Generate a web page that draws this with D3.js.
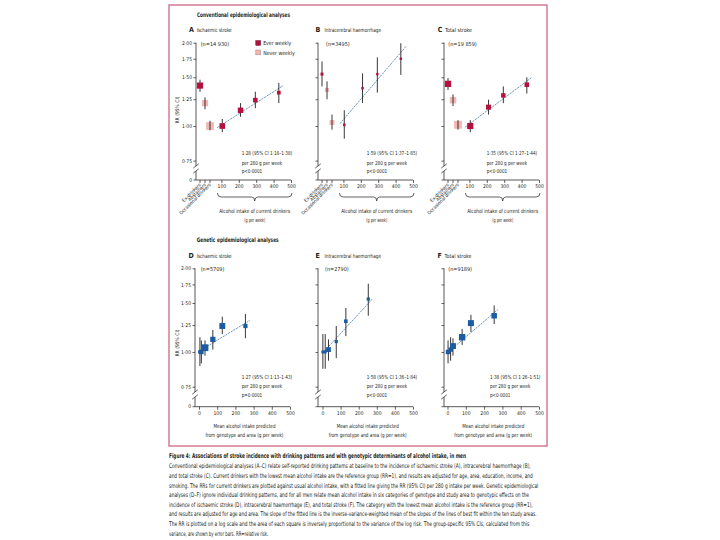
<!DOCTYPE html>
<html><head><meta charset="utf-8">
<script src="https://cdn.jsdelivr.net/npm/d3@7"></script>
<style>body{margin:0;background:#fff}</style>
</head><body><svg id="c" width="720" height="540"></svg>
<script>
// ---------- data ----------
const catLabels = ["Ex-drinkers", "Abstainers", "Occasional drinkers"];
const catGroups = ["ever", "never", "never"];
const yTicks = [0.75, 1.00, 1.25, 1.50, 1.75, 2.00];
const yTickLabels = ["0·75", "1·00", "1·25", "1·50", "1·75", "2·00"];
const xTicksConv = [100, 200, 300, 400, 500];
const xTicksGen = [0, 100, 200, 300, 400, 500];
const currIntake = [105, 210, 295, 430];

// A Ischaemic stroke (conventional)
const aCatRR = [1.40, 1.21, 1.00], aCatLo = [1.33, 1.15, 0.965], aCatHi = [1.47, 1.27, 1.045];
const aRR = [1.00, 1.14, 1.24, 1.32], aLo = [0.95, 1.08, 1.16, 1.21], aHi = [1.06, 1.21, 1.33, 1.43];
const aFitX = [75, 455], aFitRR = [0.986, 1.40];
// B Intracerebral haemorrhage (conventional)
const bCatRR = [1.54, 1.35, 1.03], bCatLo = [1.39, 1.25, 0.97], bCatHi = [1.71, 1.45, 1.10];
const bRR = [1.01, 1.37, 1.54, 1.75], bLo = [0.90, 1.21, 1.32, 1.53], bHi = [1.14, 1.55, 1.77, 1.99];
const bFitX = [80, 460], bFitRR = [1.02, 1.94];
// C Total stroke (conventional)
const cCatRR = [1.42, 1.24, 1.01], cCatLo = [1.35, 1.18, 0.97], cCatHi = [1.49, 1.30, 1.05];
const cRR = [1.00, 1.17, 1.29, 1.41], cLo = [0.95, 1.10, 1.21, 1.31], cHi = [1.05, 1.245, 1.39, 1.50];
const cFitX = [75, 460], cFitRR = [0.99, 1.50];

// D, E, F genetic analyses
const dX = [5, 13, 33, 76, 128, 255];
const dRR = [1.00, 1.00, 1.036, 1.11, 1.24, 1.24], dLo = [0.89, 0.91, 0.97, 1.02, 1.16, 1.12], dHi = [1.13, 1.10, 1.10, 1.20, 1.34, 1.37];
const dFitX = [0, 280], dFitRR = [1.005, 1.30];
const eX = [2, 15, 33, 76, 129, 253];
const eRR = [1.00, 1.00, 1.02, 1.09, 1.29, 1.55], eLo = [0.87, 0.87, 0.93, 0.95, 1.14, 1.35], eHi = [1.16, 1.16, 1.11, 1.24, 1.44, 1.76];
const eFitX = [12, 275], eFitRR = [1.01, 1.55];
const fX = [3, 17, 30, 80, 128, 255];
const fRR = [1.00, 1.02, 1.05, 1.13, 1.27, 1.35], fLo = [0.91, 0.93, 0.97, 1.06, 1.18, 1.26], fHi = [1.10, 1.13, 1.12, 1.21, 1.36, 1.47];
const fFitX = [0, 275], fFitRR = [0.995, 1.42];

const panelLetters = ["A", "B", "C", "D", "E", "F"];
const panelTitles = ["Ischaemic stroke", "Intracerebral haemorrhage", "Total stroke", "Ischaemic stroke", "Intracerebral haemorrhage", "Total stroke"];
const panelN = ["(n=14 930)", "(n=3495)", "(n=19 859)", "(n=5709)", "(n=2790)", "(n=9189)"];
const statLine1 = ["1·28 (95% CI 1·18–1·38)", "1·59 (95% CI 1·37–1·85)", "1·35 (95% CI 1·27–1·44)", "1·27 (95% CI 1·13–1·43)", "1·58 (95% CI 1·36–1·84)", "1·38 (95% CI 1·26–1·51)"];
const statLine2 = "per 280 g per week";
const statLine3 = ["p<0·0001", "p<0·0001", "p<0·0001", "p=0·0001", "p<0·0001", "p<0·0001"];
const legendLabels = ["Ever weekly", "Never weekly"];

const captionTitle = "Figure 4: Associations of stroke incidence with drinking patterns and with genotypic determinants of alcohol intake, in men";
const captionLines = [
 "Conventional epidemiological analyses (A–C) relate self-reported drinking patterns at baseline to the incidence of ischaemic stroke (A), intracerebral haemorrhage (B),",
 "and total stroke (C). Current drinkers with the lowest mean alcohol intake are the reference group (RR=1), and results are adjusted for age, area, education, income, and",
 "smoking. The RRs for current drinkers are plotted against usual alcohol intake, with a fitted line giving the RR (95% CI) per 280 g intake per week. Genetic epidemiological",
 "analyses (D–F) ignore individual drinking patterns, and for all men relate mean alcohol intake in six categories of genotype and study area to genotypic effects on the",
 "incidence of ischaemic stroke (D), intracerebral haemorrhage (E), and total stroke (F). The category with the lowest mean alcohol intake is the reference group (RR=1),",
 "and results are adjusted for age and area. The slope of the fitted line is the inverse-variance-weighted mean of the slopes of the lines of best fit within the ten study areas.",
 "The RR is plotted on a log scale and the area of each square is inversely proportional to the variance of the log risk. The group-specific 95% CIs, calculated from this",
 "variance, are shown by error bars. RR=relative risk."
];

// ---------- layout / style ----------
const FONT = "'Liberation Sans Narrow','Arial Narrow','DejaVu Sans Condensed','Liberation Sans',Arial,sans-serif";
const INK = "#231f20";
const RED = "#b3123f", PINK = "#f2b6b3", BLUE = "#1b5ca3", FIT = "#6e97b7";
const svg = d3.select("#c");
svg.append("rect").attr("width", 720).attr("height", 540).attr("fill", "#fff");
svg.append("rect").attr("x", 169).attr("y", 5).attr("width", 378).attr("height", 441)
  .attr("fill", "none").attr("stroke", "#d0728b").attr("stroke-width", 1.4);

function txt(x, y, s, o = {}) {
  const t = svg.append("text").attr("x", x).attr("y", y).text(s)
    .attr("font-family", FONT).attr("font-size", o.size || 5.5).attr("fill", INK);
  if (o.bold) t.attr("font-weight", "bold");
  if (o.anchor) t.attr("text-anchor", o.anchor);
  if (o.len) t.attr("textLength", o.len).attr("lengthAdjust", "spacingAndGlyphs");
  if (o.rot !== undefined) t.attr("transform", `rotate(${o.rot},${x},${y})`);
  return t;
}

const rows = {
  top: { yTop: 42.7, y075: 160.6, xAxisY: 180, brk: [166, 171], head: 31.5, nY: 46, statY: [155, 164.5, 172.5], yLab: 110, sizeK: 0.62 },
  bot: { yTop: 268.3, y075: 386.7, xAxisY: 406.7, brk: [392, 397], head: 257.5, nY: 270.5, statY: [379, 388, 396.5], yLab: 343, sizeK: 0.85 }
};

function sq(g, cx, cy, s, fill) {
  g.append("rect").attr("x", cx - s / 2).attr("y", cy - s / 2).attr("width", s).attr("height", s).attr("fill", fill);
}
function ciLine(g, cx, y1, y2) {
  g.append("line").attr("x1", cx).attr("x2", cx).attr("y1", y1).attr("y2", y2)
    .attr("stroke", INK).attr("stroke-width", 0.9);
}

function panel(p) {
  const row = p.row, ax = p.axisX;
  const y = d3.scaleLog().domain([0.75, 2]).range([row.y075, row.yTop]);
  const x = d3.scaleLinear().domain([0, 500]).range([ax + p.x0, ax + 95]);
  const g = svg.append("g");
  const side = (lo, hi) => Math.max(2.4, Math.min(9, row.sizeK / (Math.log(hi) - Math.log(lo))));

  // y axis with break
  const ln = (x1, y1, x2, y2, w = 0.75) => g.append("line").attr("x1", x1).attr("y1", y1).attr("x2", x2).attr("y2", y2).attr("stroke", INK).attr("stroke-width", w);
  ln(ax, y(2), ax, row.brk[0]);
  ln(ax, row.brk[1], ax, row.xAxisY);
  row.brk.forEach(b => ln(ax - 2.8, b + 2.2, ax + 2.8, b - 2.2, 0.7));
  const ya = g.append("g").attr("transform", `translate(${ax},0)`)
    .call(d3.axisLeft(y).tickValues(yTicks).tickSize(2.5).tickPadding(1.5)
      .tickFormat((d, i) => p.labels ? yTickLabels[i] : ""));
  ya.select(".domain").remove();
  ya.selectAll("line").attr("stroke", INK).attr("stroke-width", 0.7);
  ya.selectAll("text").attr("font-family", FONT).attr("font-size", 5).attr("fill", INK);
  ln(ax - 2.5, row.xAxisY, ax, row.xAxisY, 0.7);
  if (p.labels) {
    txt(ax - 4, row.xAxisY + 1.7, "0", { size: 5, anchor: "end" });
    txt(176.7 + 1.8, row.yLab, "RR (95% CI)", { size: 5, anchor: "middle", rot: -90 });
  }

  // x axis
  ln(ax, row.xAxisY, x(500), row.xAxisY);
  const xa = g.append("g").attr("transform", `translate(0,${row.xAxisY})`)
    .call(d3.axisBottom(x).tickValues(p.xt).tickSize(3).tickPadding(1.5).tickFormat(d3.format("d")));
  xa.select(".domain").remove();
  xa.selectAll("line").attr("stroke", INK).attr("stroke-width", 0.7);
  xa.selectAll("text").attr("font-family", FONT).attr("font-size", 5).attr("fill", INK);

  // header
  txt(p.letterX, row.head, panelLetters[p.i], { size: 7, bold: true });
  txt(p.titleX, row.head, panelTitles[p.i], { size: 5.6, len: p.titleLen });
  txt(p.nX, row.nY, panelN[p.i], { size: 5.5 });
  txt(p.statX, row.statY[0], statLine1[p.i], { size: 5.5, len: 50.5 });
  txt(p.statX, row.statY[1], statLine2, { size: 5.5, len: 40.5 });
  txt(p.statX, row.statY[2], statLine3[p.i], { size: 5.5, len: 20.5 });

  // fitted line
  g.append("line").attr("x1", x(p.fitX[0])).attr("y1", y(p.fitRR[0]))
    .attr("x2", x(p.fitX[1])).attr("y2", y(p.fitRR[1]))
    .attr("stroke", FIT).attr("stroke-width", 1).attr("stroke-dasharray", "2.2,0.9");

  if (p.conv) {
    // category ticks and labels
    const c = d3.scalePoint().domain(catLabels).range([ax + 4, ax + 14]);
    catLabels.forEach(l => {
      ln(c(l), row.xAxisY, c(l), row.xAxisY + 3, 0.7);
      txt(c(l) + 1.2, row.xAxisY + 5.2, l, { size: 4.8, anchor: "end", rot: -45 });
    });
    // brace
    const x1 = x(100) - 4, x2 = x(500) + 1, xm = (x1 + x2) / 2, y0 = 193, y1 = 197, y2 = 201;
    g.append("path").attr("d",
      `M${x1},${y0} Q${x1},${y1} ${x1 + 4},${y1} L${xm - 3},${y1} Q${xm},${y1} ${xm},${y2} Q${xm},${y1} ${xm + 3},${y1} L${x2 - 4},${y1} Q${x2},${y1} ${x2},${y0}`)
      .attr("fill", "none").attr("stroke", INK).attr("stroke-width", 0.7);
    txt(xm, 212.7, "Alcohol intake of current drinkers", { size: 5.6, anchor: "middle", len: 71 });
    txt(xm, 221.7, "(g per week)", { size: 5.6, anchor: "middle", len: 21 });
    // category points
    p.catRR.forEach((r, i) => {
      const cx = c(catLabels[i]), s = side(p.catLo[i], p.catHi[i]);
      if (catGroups[i] === "ever") {
        ciLine(g, cx, y(p.catHi[i]), y(p.catLo[i]));
        sq(g, cx, y(r), s, RED);
      } else {
        sq(g, cx, y(r), s, PINK);
        ciLine(g, cx, y(p.catHi[i]), y(p.catLo[i]));
      }
    });
    // current drinkers
    p.rr.forEach((r, i) => {
      const cx = x(p.xs[i]);
      ciLine(g, cx, y(p.hi[i]), y(p.lo[i]));
      sq(g, cx, y(r), side(p.lo[i], p.hi[i]), RED);
    });
  } else {
    const xm = (x(0) + x(500)) / 2;
    txt(xm, 428.3, "Mean alcohol intake predicted", { size: 5.6, anchor: "middle", len: 62 });
    txt(xm, 437.3, "from genotype and area (g per week)", { size: 5.6, anchor: "middle", len: 78 });
    p.rr.forEach((r, i) => {
      const cx = x(p.xs[i]);
      ciLine(g, cx, y(p.hi[i]), y(p.lo[i]));
      sq(g, cx, y(r), side(p.lo[i], p.hi[i]), BLUE);
    });
  }

  if (p.legend) {
    const lx = 255.8;
    [[RED, "#6d0a24"], [PINK, "#a08080"]].forEach((col, k) => {
      const ly = 40.6 + k * 9.4;
      g.append("rect").attr("x", lx).attr("y", ly).attr("width", 4.8).attr("height", 4.8)
        .attr("fill", col[0]).attr("stroke", col[1]).attr("stroke-width", 0.5);
      txt(lx + 7.4, ly + 4.6, legendLabels[k], { size: 5.6, len: k ? 31.5 : 28 });
    });
  }
}

// section titles
txt(197, 17.2, "Conventional epidemiological analyses", { size: 6.2, bold: true, len: 93 });
txt(196.7, 242.2, "Genetic epidemiological analyses", { size: 6.2, bold: true, len: 82 });

panel({ i: 0, row: rows.top, axisX: 196, x0: 8, xt: xTicksConv, labels: true, conv: true, legend: true,
  letterX: 189, titleX: 196.7, titleLen: 35, nX: 200.7, statX: 241.7,
  catRR: aCatRR, catLo: aCatLo, catHi: aCatHi, xs: currIntake, rr: aRR, lo: aLo, hi: aHi, fitX: aFitX, fitRR: aFitRR });
panel({ i: 1, row: rows.top, axisX: 318, x0: 8, xt: xTicksConv, labels: false, conv: true,
  letterX: 315.5, titleX: 324.5, titleLen: 56.5, nX: 326, statX: 366.7,
  catRR: bCatRR, catLo: bCatLo, catHi: bCatHi, xs: currIntake, rr: bRR, lo: bLo, hi: bHi, fitX: bFitX, fitRR: bFitRR });
panel({ i: 2, row: rows.top, axisX: 444, x0: 8, xt: xTicksConv, labels: false, conv: true,
  letterX: 437.8, titleX: 445, titleLen: 27, nX: 448.3, statX: 486.7,
  catRR: cCatRR, catLo: cCatLo, catHi: cCatHi, xs: currIntake, rr: cRR, lo: cLo, hi: cHi, fitX: cFitX, fitRR: cFitRR });
panel({ i: 3, row: rows.bot, axisX: 195, x0: 4, xt: xTicksGen, labels: true, conv: false,
  letterX: 188.5, titleX: 196.7, titleLen: 35, nX: 200.7, statX: 241.7,
  xs: dX, rr: dRR, lo: dLo, hi: dHi, fitX: dFitX, fitRR: dFitRR });
panel({ i: 4, row: rows.bot, axisX: 318, x0: 4.5, xt: xTicksGen, labels: false, conv: false,
  letterX: 315.5, titleX: 324.5, titleLen: 56.5, nX: 325, statX: 366.7,
  xs: eX, rr: eRR, lo: eLo, hi: eHi, fitX: eFitX, fitRR: eFitRR });
panel({ i: 5, row: rows.bot, axisX: 444, x0: 3.5, xt: xTicksGen, labels: false, conv: false,
  letterX: 437.5, titleX: 444.5, titleLen: 27, nX: 448.3, statX: 490,
  xs: fX, rr: fRR, lo: fLo, hi: fHi, fitX: fFitX, fitRR: fFitRR });

// caption
txt(169, 458.4, captionTitle, { size: 6.6, bold: true, len: 297 });
const capEnds = [530.7, 532.7, 538.3, 529, 532.7, 536.7, 529.3, 268.3];
captionLines.forEach((l, i) => txt(169, 468.2 + i * 9.65, l, { size: 6.4, len: capEnds[i] - 169 }));
</script>
</body></html>
